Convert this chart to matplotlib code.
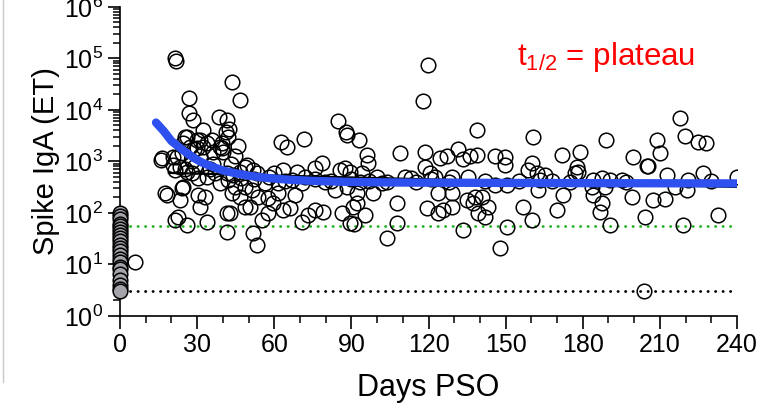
import matplotlib
matplotlib.use('Agg')
import matplotlib.pyplot as plt
from matplotlib.ticker import MultipleLocator, LogLocator, NullFormatter, FixedLocator
from matplotlib.lines import Line2D

plt.rcParams['font.family'] = ['Liberation Sans', 'DejaVu Sans']
plt.rcParams['mathtext.fontset'] = 'custom'
plt.rcParams['mathtext.rm'] = 'Liberation Sans'
plt.rcParams['mathtext.it'] = 'Liberation Sans'
plt.rcParams['mathtext.bf'] = 'Liberation Sans'

# baseline samples (day 0)
baseline_titres = [100, 88, 75, 62, 55, 48, 42, 37, 32, 28, 24, 21, 18, 15,
                   13, 11, 9, 8, 6.5, 5, 4, 3.3, 3]

# follow-up samples: days post symptom onset and titres
days = [
    # 0-45 days
    5.8, 16.0, 16.3, 17.5, 18.3, 20.6, 20.6, 21.4, 21.8, 21.4, 21.4, 22.2,
    22.6, 23.3, 23.3, 24.1, 24.1, 24.5, 24.5, 25.3, 25.3, 26.1, 26.1, 26.1,
    26.8, 26.8, 27.2, 28.0, 28.0, 28.4, 28.8, 29.0, 30.0, 30.0, 30.4, 30.4,
    31.1, 31.1, 31.1, 32.3, 32.3, 33.1, 33.9, 33.9, 33.9, 35.0, 35.8, 36.2,
    36.2, 37.0, 38.5, 38.9, 38.9, 39.7, 39.7, 40.0, 41.2, 41.6, 41.6, 41.6,
    41.6, 42.4, 42.0, 43.0, 43.6, 44.7, 45.9, 46.7,
    # 42-82 days
    42.0, 43.6, 42.8, 44.7, 46.7, 46.7, 48.6, 48.6, 48.6, 49.4, 50.6, 51.4,
    51.8, 51.8, 53.3, 53.3, 53.7, 55.3, 56.4, 57.6, 57.6, 59.5, 61.5, 61.5,
    62.6, 63.4, 63.4, 65.0, 66.1, 66.9, 68.1, 68.9, 70.8, 70.8, 71.6, 73.2,
    75.9, 75.9, 78.6, 79.0, 79.8, 44.0, 47.0, 52.0, 58.0, 60.0, 64.0, 72.0,
    76.0, 82.0,
    # 83-125 days
    119.8, 117.9, 84.8, 87.9, 88.3, 93.0, 96.1, 96.5, 109.0, 118.7, 118.7,
    120.6, 124.5, 85.6, 87.5, 89.5, 94.2, 83.7, 88.3, 92.2, 98.4, 101.9,
    110.9, 92.2, 90.7, 107.8, 86.4, 95.3, 89.5, 91.0, 119.5, 123.7, 107.8,
    103.9, 90.0, 93.5, 97.0, 100.0, 104.0, 113.0, 121.0, 115.0,
    # 122-165 days
    138.9, 160.7, 131.5, 127.2, 133.5, 136.2, 138.9, 145.9, 149.8, 149.8,
    158.8, 160.3, 162.3, 163.4, 122.6, 129.2, 135.4, 145.9, 150.6, 123.7,
    129.2, 135.0, 138.1, 140.9, 143.2, 137.4, 139.3, 142.0, 125.7, 129.2,
    156.8, 160.3, 150.6, 133.5, 147.9, 162.6, 128.0, 142.0, 155.0,
    # 163-210 days
    189.1, 179.0, 172.0, 199.6, 205.1, 177.8, 178.2, 177.0, 165.4, 184.0,
    187.5, 190.7, 195.3, 183.7, 188.7, 172.4, 184.0, 199.2, 187.5, 170.0,
    186.8, 190.7, 168.0, 175.0, 197.0,
    # 203-240 days
    217.9, 219.8, 224.9, 228.0, 209.0, 210.1, 205.4, 212.8, 221.0, 226.8,
    240.0, 220.6, 207.4, 212.1, 216.0, 204.3, 232.7, 219.1, 203.9, 230.0,
]
titres = [
    # 0-45 days
    11, 1070, 1170, 245, 223, 1220, 850, 100000, 88000, 680, 73, 1220,
    84, 780, 178, 1460, 305, 2300, 320, 3000, 700, 3000, 625, 58,
    17000, 8800, 1900, 600, 1000, 6400, 1750, 800, 2630, 1830, 480, 223,
    2630, 1280, 130, 4100, 1900, 205, 2300, 500, 67, 700, 2630, 1530,
    900, 600, 7300, 1900, 380, 1830, 2300, 1500, 3750, 6400, 600, 100,
    43, 4300, 3000, 900, 35000, 1300, 2000, 15600,
    # 42-82 days
    440, 245, 100, 320, 205, 625, 320, 130, 780, 850, 130, 280,
    680, 41, 600, 24, 205, 73, 380, 195, 100, 155, 380, 245,
    2400, 680, 114, 1900, 125, 440, 223, 625, 380, 67, 2750, 91,
    745, 114, 930, 105, 400, 550, 480, 450, 500, 600, 420, 500,
    450, 420,
    # 83-125 days
    75000, 15000, 6100, 3750, 3250, 2630, 1340, 930, 1460, 1530, 780,
    600, 1170, 680, 745, 625, 600, 280, 320, 245, 245, 380,
    500, 155, 130, 155, 100, 91, 64, 60, 125, 100, 64,
    33, 450, 400, 420, 500, 400, 480, 450, 400,
    # 122-165 days
    4100, 3000, 1750, 1280, 1110, 1280, 1340, 1280, 1220, 850,
    680, 930, 600, 440, 500, 500, 500, 350, 350, 245,
    245, 178, 205, 205, 130, 155, 100, 84, 114, 130,
    130, 73, 53, 47, 21, 280, 400, 420, 420,
    # 163-210 days
    2630, 1530, 1340, 1220, 815, 780, 625, 600, 550, 440,
    480, 440, 440, 320, 320, 223, 223, 205, 155, 114,
    105, 58, 420, 400, 400,
    # 203-240 days
    7000, 3150, 2400, 2300, 2630, 1460, 815, 550, 440, 600,
    500, 280, 178, 187, 320, 84, 91, 58, 3.1, 420,
]

# one-phase decay fit
fit_days = [14, 17, 20, 23, 26, 29, 32, 36, 40, 45, 50, 57, 65, 75, 90,
            110, 140, 180, 240]
fit_titres = [5700, 3900, 2500, 1900, 1460, 1150, 950, 790, 670, 590, 530,
              480, 445, 420, 400, 390, 385, 380, 375]

# log-linear fit
line_days = [19, 240]
line_titres = [600, 320]

positivity_cutoff = 56
detection_limit = 3

fig = plt.figure(figsize=(7.61, 4.09), dpi=100)
ax = fig.add_axes([0.1577, 0.2274, 0.8108, 0.7555])

ax.plot([4, 240], [positivity_cutoff] * 2, color='#22b022', linewidth=2,
        linestyle=(0, (0.1, 2.6)), dash_capstyle='round', zorder=1)
ax.plot([4, 240], [detection_limit] * 2, color='black', linewidth=2,
        linestyle=(0, (0.1, 2.6)), dash_capstyle='round', zorder=1)

ax.plot(days, titres, linestyle='none', marker='o', markersize=10.5,
        markerfacecolor='none', markeredgecolor='black',
        markeredgewidth=1.1, zorder=2)
ax.plot([0] * len(baseline_titres), baseline_titres, linestyle='none',
        marker='o', markersize=10.5, markerfacecolor='#a4a4aa',
        markeredgecolor='black', markeredgewidth=1.1, zorder=6,
        clip_on=False)

ax.plot(line_days, line_titres, color='black', linewidth=1.6, zorder=3)
ax.plot(fit_days, fit_titres, color='#2d50ee', linewidth=6,
        solid_capstyle='round', zorder=4)

ax.text(0.643, 0.812, r'$\mathregular{t_{1/2}}$ = plateau', color='red',
        fontsize=22.5, transform=ax.transAxes, ha='left', va='baseline')

ax.set_yscale('log')
ax.set_ylim(1, 1e6)
ax.set_xlim(0, 240)
ax.xaxis.set_major_locator(MultipleLocator(30))
ax.xaxis.set_minor_locator(MultipleLocator(10))
ax.yaxis.set_major_locator(FixedLocator([10 ** i for i in range(7)]))
ax.yaxis.set_minor_locator(LogLocator(base=10, subs=range(2, 10), numticks=20))
ax.yaxis.set_minor_formatter(NullFormatter())
ax.set_yticklabels([r'$10^{%d}$' % i for i in range(7)])

for side in ['top', 'right']:
    ax.spines[side].set_visible(False)
for side in ['left', 'bottom']:
    ax.spines[side].set_linewidth(1.2)
ax.tick_params(which='major', length=9, width=1.2, labelsize=18, pad=3)
ax.tick_params(which='minor', length=5, width=1.1)

ax.set_xlabel('Days PSO', fontsize=22, labelpad=12)
ax.set_ylabel('Spike IgA (ET)', fontsize=21, labelpad=3)

# frame edge of neighbouring panel
fig.add_artist(Line2D([3 / 761, 3 / 761], [1 - 382 / 409, 1],
                      color='#c8c8c8', linewidth=1))

fig.savefig('out.png', dpi=100)
